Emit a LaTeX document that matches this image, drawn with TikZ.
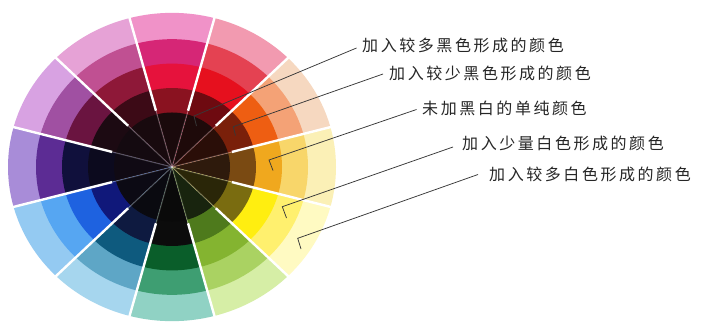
\documentclass[tikz,border=0pt]{standalone}
\usepackage{fontspec}
\newfontfamily\cjk[LetterSpace=16]{Noto Sans CJK SC}
\begin{document}
\begin{tikzpicture}[x=1pt,y=-1pt,
  lbl/.style={font=\cjk\fontsize{16}{18}\selectfont, text=black!85, inner sep=0pt, anchor=west},
  leader/.style={draw=black!78, line width=0.75pt},
  gapline/.style={white, line width=2.4pt},
  gapfaint/.style={white, opacity=0.28, line width=1.1pt}]
\useasboundingbox (0,0) rectangle (703,322);
\fill[white] (0,0) rectangle (703,322);
% colour wheel
\begin{scope}[shift={(172,167)}, yscale=-0.94]
  \foreach \kk/\qa/\qb/\qc/\qd/\qe in {
    0/2E1A0C/7A4A12/F0A81E/F8D66A/FBF0B6,
    1/2A0E08/7A200A/EE5E12/F4A276/F6D8C0,
    2/1E0A0A/6E0A10/E6101E/E44252/F29AB0,
    3/1A0A0C/8A1220/E6123C/D62676/F092C8,
    4/180A0E/3C0A16/8E1838/C05092/E6A2D6,
    5/140A10/1C0A12/6A1440/A050A2/D8A2E2,
    6/100A14/0C0A1E/10103C/5C2C94/A88CD8,
    7/0C0A14/10187A/1E62E0/56A6F2/94CAF2,
    8/0A0A10/0E1A40/0E5A7E/5EA6C6/A6D6EE,
    9/0A0A0A/0C0C0C/0A5E2A/3E9E72/90D2C4,
    10/18240E/4E7A1C/84B430/AAD262/D6EEA6,
    11/2A2608/7A6C10/FFEE10/FFF06E/FFFAC2}{
    \pgfmathsetmacro\aa{30*\kk-15}
    \pgfmathsetmacro\ab{30*\kk+15}
    \definecolor{wA}{HTML}{\qa}
    \definecolor{wB}{HTML}{\qb}
    \definecolor{wC}{HTML}{\qc}
    \definecolor{wD}{HTML}{\qd}
    \definecolor{wE}{HTML}{\qe}
    \fill[wE] (0,0) -- (\aa:164) arc[start angle=\aa, end angle=\ab, radius=164] -- cycle;
    \fill[wD] (0,0) -- (\aa:136) arc[start angle=\aa, end angle=\ab, radius=136] -- cycle;
    \fill[wC] (0,0) -- (\aa:110) arc[start angle=\aa, end angle=\ab, radius=110] -- cycle;
    \fill[wB] (0,0) -- (\aa:84) arc[start angle=\aa, end angle=\ab, radius=84] -- cycle;
    \fill[wA] (0,0) -- (\aa:58) arc[start angle=\aa, end angle=\ab, radius=58] -- cycle;
  }
  \foreach \a in {15,45,...,345}{
    \draw[gapline] (\a:62) -- (\a:166);
    \draw[gapfaint] (0,0) -- (\a:62);
  }
\end{scope}
% labels
\node[lbl] (t1) at (362,45) {加入较多黑色形成的颜色};
\node[lbl] (t2) at (389,73.5) {加入较少黑色形成的颜色};
\node[lbl] (t3) at (422,108) {未加黑白的单纯颜色};
\node[lbl] (t4) at (462,143) {加入少量白色形成的颜色};
\node[lbl] (t5) at (489,174) {加入较多白色形成的颜色};
% leader points
\coordinate (s1) at (356.5,48);
\coordinate (c1) at (194,116);
\coordinate (e1) at (196.5,126);
\coordinate (s2) at (383,74);
\coordinate (c2) at (233.3,126.7);
\coordinate (e2) at (235.5,135.5);
\coordinate (s3) at (416.5,109.5);
\coordinate (c3) at (269,160);
\coordinate (e3) at (273,170.5);
\coordinate (s4) at (453,147);
\coordinate (c4) at (282.3,206.7);
\coordinate (e4) at (286.5,218);
\coordinate (s5) at (478,174.5);
\coordinate (c5) at (297.7,238.3);
\coordinate (e5) at (301,249);
\draw[leader] (s1) -- (c1) -- (e1);
\draw[leader] (s2) -- (c2) -- (e2);
\draw[leader] (s3) -- (c3) -- (e3);
\draw[leader] (s4) -- (c4) -- (e4);
\draw[leader] (s5) -- (c5) -- (e5);
\end{tikzpicture}
\end{document}
